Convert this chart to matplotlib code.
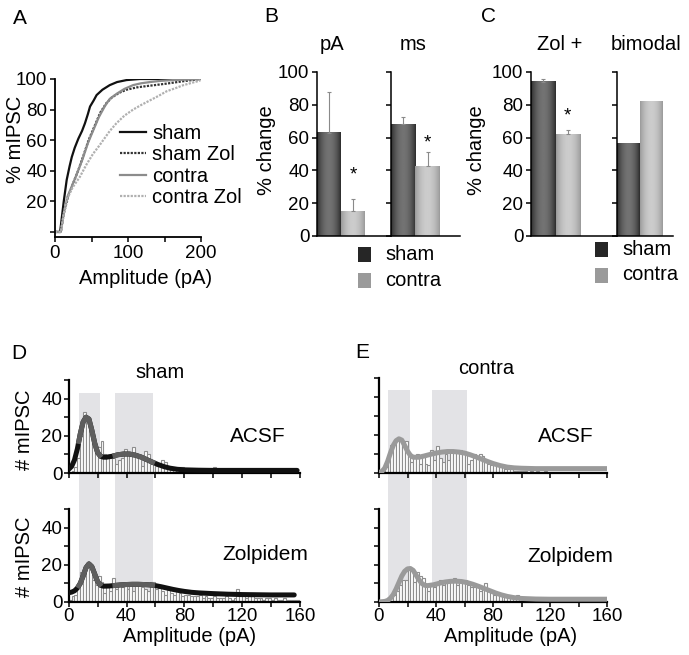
import numpy as np
import matplotlib
matplotlib.use('Agg')
import matplotlib.pyplot as plt
from matplotlib.patches import Rectangle
from matplotlib.lines import Line2D

plt.rcParams['font.family'] = ['Liberation Sans', 'DejaVu Sans']

# ---------------- data ----------------
# Panel A: cumulative amplitude distributions (pA, %)
cum_sham_x = [0, 7, 12, 16, 20, 23, 27, 32, 37, 41, 45, 48, 53, 57, 65, 75, 85, 98, 116, 200]
cum_sham_y = [0, 0, 20, 34, 43, 49, 55, 61, 66, 71, 77, 82, 86, 89.5, 93, 96, 98, 99.3, 100, 100]
cum_shamzol_x = [0, 8, 12, 18, 25, 32, 39, 46, 54, 62, 70, 78, 88, 98, 112, 126, 140, 153, 175, 199]
cum_shamzol_y = [0, 0, 12, 23, 32, 40.5, 50, 60, 69, 78, 84, 88, 91, 93, 94.5, 95.4, 96.2, 97, 98.5, 100]
cum_contra_x = [0, 8, 12, 17, 24, 30, 38, 45, 52, 60, 68, 75, 85, 95, 107, 118, 130, 145, 162, 200]
cum_contra_y = [0, 0, 12, 23, 31, 38, 48, 58, 66, 75, 82, 87, 90.5, 93.5, 96, 97.2, 98, 98.8, 99.3, 100]
cum_contrazol_x = [0, 8, 12, 16, 24, 34, 43, 52, 60, 66, 75, 84, 95, 107, 118, 130, 142, 153, 165, 176, 199]
cum_contrazol_y = [0, 0, 12, 21, 29, 36, 44, 51, 56, 60, 66, 71, 76, 80, 83, 86, 89, 92, 94, 96, 99]
cum_labels = ['sham', 'sham Zol', 'contra', 'contra Zol']

# Panel B: % change
B_groups = ['pA', 'ms']
B_sham = [63, 68]
B_contra = [15, 42.5]
B_sham_err = [25, 4.5]
B_contra_err = [7.5, 8.5]
B_star_y = [37, 57]

# Panel C
C_groups = ['Zol +', 'bimodal']
C_sham = [94, 56.5]
C_contra = [62, 82]
C_sham_err = [2, 0]
C_contra_err = [2.5, 0]
C_star_y = [73, None]

legend_labels = ['sham', 'contra']

# Panels D/E: amplitude histograms, 2 pA bins 0..160
bin_w = 2
D_acsf_counts = [0, 1, 3, 8, 20, 33, 28, 26, 20, 12,
                 14, 17, 10, 8, 8, 8, 5, 7, 8, 13,
                 10, 9, 14, 10, 9, 4, 12, 10, 5, 6,
                 4, 5, 7, 6, 3, 3, 2, 2, 3, 3,
                 2, 1, 1, 1, 0, 1, 1, 0, 1, 0,
                 3, 2, 1, 0, 0, 0, 0, 0, 0, 0,
                 0, 0, 0, 0, 0, 0, 0, 0, 0, 0,
                 0, 0, 0, 0, 0, 0, 0, 0, 0, 0]
D_zol_counts = [1, 3, 4, 8, 16, 17, 19, 20, 12, 9,
                14, 11, 5, 8, 6, 13, 7, 9, 8, 10,
                7, 9, 6, 9, 9, 8, 7, 6, 11, 11,
                7, 8, 6, 4, 7, 5, 4, 6, 5, 3,
                4, 4, 3, 3, 3, 4, 2, 3, 2, 2,
                3, 2, 2, 2, 3, 2, 1, 2, 7, 3,
                5, 2, 3, 5, 2, 2, 2, 1, 2, 2,
                1, 2, 1, 1, 2, 1, 1, 1, 1, 1]
E_acsf_counts = [0, 1, 3, 10, 15, 16, 18, 18, 17, 17,
                 9, 6, 8, 10, 5, 9, 5, 4, 12, 7,
                 14, 8, 6, 10, 7, 12, 12, 12, 12, 10,
                 11, 5, 7, 10, 8, 10, 9, 6, 5, 4,
                 4, 4, 3, 3, 2, 2, 2, 1, 1, 1,
                 1, 1, 0, 1, 0, 1, 0, 0, 1, 0,
                 0, 0, 0, 0, 0, 0, 0, 0, 0, 0,
                 0, 0, 0, 0, 0, 0, 0, 0, 0, 0]
E_zol_counts = [0, 0, 0, 1, 2, 4, 6, 9, 12, 12,
                18, 17, 11, 16, 14, 13, 9, 6, 10, 8,
                9, 12, 9, 12, 11, 12, 13, 9, 11, 11,
                12, 9, 8, 8, 8, 6, 8, 10, 6, 6,
                4, 5, 4, 3, 3, 3, 2, 3, 4, 2,
                2, 1, 1, 1, 0, 1, 0, 0, 0, 0,
                0, 0, 0, 0, 0, 0, 0, 0, 0, 0,
                0, 0, 0, 0, 0, 0, 0, 0, 0, 0]

# fitted curves (pA, count)
D_acsf_fit_x = [0, 2, 4, 6, 8, 10, 12, 14, 16, 18, 20, 22, 24, 26, 30, 34, 38, 42, 46, 50, 54, 58, 62, 66, 70, 75, 80, 90, 100, 120, 140, 158]
D_acsf_fit_y = [2, 3.5, 7, 13, 21, 27.5, 30, 29, 23, 16, 11, 9, 8.5, 8.5, 9, 9.8, 10.2, 10.2, 9.6, 8.6, 7.2, 5.8, 4.5, 3.4, 2.6, 2, 1.7, 1.5, 1.4, 1.4, 1.4, 1.4]
D_zol_fit_x = [0, 2, 4, 6, 8, 10, 12, 14, 16, 18, 20, 22, 24, 28, 32, 36, 40, 44, 48, 52, 56, 60, 64, 68, 72, 76, 80, 85, 90, 100, 110, 120, 130, 140, 156]
D_zol_fit_y = [5, 5.3, 6, 7.5, 10, 14, 18.5, 20.5, 19, 15, 11, 9, 8.5, 8.6, 8.9, 9.2, 9.4, 9.5, 9.5, 9.4, 9.2, 8.8, 8.2, 7.5, 6.8, 6.2, 5.7, 5.2, 4.9, 4.5, 4.2, 4, 3.9, 3.8, 3.8]
E_acsf_fit_x = [0, 2, 4, 6, 8, 10, 12, 14, 16, 18, 20, 22, 24, 28, 32, 36, 40, 44, 48, 52, 56, 60, 64, 68, 72, 76, 80, 85, 90, 95, 100, 110, 120, 140, 160]
E_acsf_fit_y = [0.3, 0.8, 2.5, 6, 10.5, 14.5, 17, 18, 17.3, 14.5, 11.5, 9.3, 8.3, 8.3, 9, 9.8, 10.5, 11, 11.3, 11.3, 11, 10.5, 9.6, 8.5, 7.3, 6.1, 5, 3.9, 3.1, 2.7, 2.5, 2.3, 2.3, 2.3, 2.3]
E_zol_fit_x = [0, 4, 6, 8, 10, 12, 14, 16, 18, 20, 22, 24, 26, 28, 30, 32, 34, 38, 42, 46, 50, 54, 58, 62, 66, 70, 74, 78, 82, 86, 90, 95, 100, 110, 120, 140, 160]
E_zol_fit_y = [0, 0.3, 0.8, 2, 4, 7, 10.5, 14, 16.5, 17.8, 18, 17, 14.5, 12, 10, 9, 8.8, 9.2, 10, 10.7, 11.1, 11.2, 11, 10.4, 9.5, 8.4, 7.2, 6, 4.8, 3.8, 3, 2.3, 1.9, 1.6, 1.5, 1.5, 1.5]

D_bands = [(7, 21.5), (32, 58)]
E_bands = [(6.5, 21.5), (37.5, 61.5)]

# ---------------- figure ----------------
W, H = 689, 655
fig = plt.figure(figsize=(W / 100, H / 100), dpi=100)
FS = 14.5
TFS = 13.5


def add_ax(l, t, r, b):
    ax = fig.add_axes([l / W, 1 - b / H, (r - l) / W, (b - t) / H])
    ax.patch.set_visible(False)
    return ax


def fxy(x, y):
    return (x / W, 1 - y / H)


def style(ax, lw=1.3):
    for s in ['top', 'right']:
        ax.spines[s].set_visible(False)
    for s in ['left', 'bottom']:
        ax.spines[s].set_linewidth(lw)
    ax.tick_params(direction='out', length=3.5, width=1.1, labelsize=TFS, pad=2)


def ylab(ax, text, x, y):
    ax.set_ylabel(text, fontsize=FS, va='center', ha='center')
    ax.yaxis.set_label_coords(*fxy(x, y), transform=fig.transFigure)


def xlab(ax, text, x, y):
    ax.set_xlabel(text, fontsize=FS, va='center', ha='center')
    ax.xaxis.set_label_coords(*fxy(x, y), transform=fig.transFigure)


def letter(s, x, y):
    fig.text(*fxy(x, y), s, fontsize=15, ha='center', va='center')

# ---- Panel A ----
axA = add_ax(55, 79, 201, 237)
style(axA)
axA.plot(cum_sham_x, cum_sham_y, color='#111111', lw=1.6, label=cum_labels[0])
axA.plot(cum_shamzol_x, cum_shamzol_y, color='#333333', lw=1.6, ls=(0, (1, 0.6)), label=cum_labels[1])
axA.plot(cum_contra_x, cum_contra_y, color='#8c8c8c', lw=1.6, label=cum_labels[2])
axA.plot(cum_contrazol_x, cum_contrazol_y, color='#b0b0b0', lw=1.6, ls=(0, (1, 0.6)), label=cum_labels[3])
axA.set_xlim(0, 200)
axA.set_ylim(-3.3, 100)
axA.set_xticks([0, 100, 200])
axA.set_xticks([50, 150], minor=True)
axA.tick_params(which='minor', direction='out', length=3.5, width=1.1)
axA.set_yticks([0, 20, 40, 60, 80, 100])
axA.set_yticklabels(['', '20', '40', '60', '80', '100'])
ylab(axA, '% mIPSC', 16, 139)
xlab(axA, 'Amplitude (pA)', 146, 278)
axA.legend(loc='upper left', bbox_to_anchor=fxy(120, 124), bbox_transform=fig.transFigure,
           frameon=False, fontsize=FS, handlelength=1.3, handletextpad=0.3,
           labelspacing=0.12, borderpad=0, borderaxespad=0)
letter('A', 20, 19)


def grad_bar(ax, x0, w, h, edge, center):
    t = np.linspace(0, 1, 60)
    prof = edge + (center - edge) * np.sin(np.pi * t) ** 0.8
    ax.imshow(prof[None, :], cmap='gray', vmin=0, vmax=1, extent=(x0, x0 + w, 0, h),
              aspect='auto', interpolation='bilinear', zorder=2)


def bar_panel(ax, sham, contra, serr, cerr, xmax, star, ticklabels=True):
    style(ax, lw=1.1)
    pos = np.arange(2)
    vals = [sham, contra]
    errs = [serr, cerr]
    shades = [(0.17, 0.45), (0.6, 0.8)]
    for i in range(2):
        grad_bar(ax, pos[i], 1, vals[i], *shades[i])
        if errs[i]:
            ax.errorbar(pos[i] + 0.5, vals[i], yerr=[[0], [errs[i]]], color='#8a8a8a',
                        lw=0.8, capsize=1.5, capthick=0.8, zorder=3)
    if star is not None:
        ax.text(pos[1] + 0.5, star, '*', fontsize=TFS, ha='center', va='center')
    ax.set_xlim(0, xmax)
    ax.set_ylim(0, 100)
    ax.set_xticks([])
    ax.set_yticks([0, 20, 40, 60, 80, 100])
    if not ticklabels:
        ax.set_yticklabels([])


# ---- Panel B ----
axB1 = add_ax(317, 72, 391, 236)
bar_panel(axB1, B_sham[0], B_contra[0], B_sham_err[0], B_contra_err[0], 74 / 24, B_star_y[0])
axB2 = add_ax(391, 72, 460, 236)
bar_panel(axB2, B_sham[1], B_contra[1], B_sham_err[1], B_contra_err[1], 69 / 24.5, B_star_y[1], ticklabels=False)
ylab(axB1, '% change', 266, 150)
fig.text(*fxy(332, 45), B_groups[0], fontsize=FS, ha='center', va='center')
fig.text(*fxy(413, 45), B_groups[1], fontsize=FS, ha='center', va='center')
letter('B', 271, 17)

# ---- Panel C ----
axC1 = add_ax(531, 72, 617, 236)
bar_panel(axC1, C_sham[0], C_contra[0], C_sham_err[0], C_contra_err[0], 86 / 24.5, C_star_y[0])
axC2 = add_ax(617, 72, 673, 236)
bar_panel(axC2, C_sham[1], C_contra[1], C_sham_err[1], C_contra_err[1], 56 / 23, C_star_y[1], ticklabels=False)
ylab(axC1, '% change', 476, 150)
fig.text(*fxy(560, 45), C_groups[0], fontsize=FS, ha='center', va='center')
fig.text(*fxy(646, 45), C_groups[1], fontsize=FS, ha='center', va='center')
letter('C', 488, 17)

# legends for B and C
for (sx, tx, y0) in [(358, 385, 247), (595, 622, 242)]:
    for k, (lab, col) in enumerate(zip(legend_labels, ['#262626', '#9a9a9a'])):
        yy = y0 + k * 25.5
        fig.patches.append(Rectangle(fxy(sx, yy + 15), 13 / W, 15 / H, transform=fig.transFigure,
                                     facecolor=col, edgecolor='none'))
        fig.text(*fxy(tx, yy + 7.5), lab, fontsize=FS, ha='left', va='center')


# ---- Panels D / E ----
def band_axes(l, t, r, b, bands):
    ax = add_ax(l, t, r, b)
    ax.set_xlim(0, 160)
    ax.set_ylim(0, 1)
    ax.axis('off')
    for a, bnd in bands:
        ax.axvspan(a, bnd, color='#e3e3e6', lw=0)
    return ax


def hist_panel(ax, counts, fx, fy, color_main, color_band, bands, ylabels, xlabels):
    style(ax, lw=1.6)
    ax.tick_params(pad=1)
    edges = np.arange(0, 160, bin_w)
    ax.bar(edges, counts, width=bin_w, align='edge', facecolor='white',
           edgecolor='#8e8e8e', lw=0.8, zorder=2)
    fx = np.asarray(fx, float)
    fy = np.asarray(fy, float)
    ax.plot(fx, fy, color=color_main, lw=3.6, solid_capstyle='round', zorder=3)
    if color_band is not None:
        for a, b in bands:
            m = (fx > a) & (fx < b)
            xs = np.concatenate([[a], fx[m], [b]])
            ax.plot(xs, np.interp(xs, fx, fy), color=color_band, lw=3.6, zorder=4)
    ax.set_xlim(0, 160)
    ax.set_ylim(0, 50)
    ax.set_xticks(np.arange(0, 161, 20))
    ax.set_yticks(np.arange(0, 51, 10))
    if ylabels:
        ax.set_yticklabels(['0', '', '20', '', '40', ''])
    else:
        ax.set_yticklabels([])
    if xlabels:
        ax.set_xticklabels(['0', '', '40', '', '80', '', '120', '', '160'])
    else:
        ax.set_xticklabels([])


band_axes(68.7, 393, 300, 601, D_bands)
band_axes(379, 390, 607, 601, E_bands)

axD1 = add_ax(68.7, 380, 300, 473)
hist_panel(axD1, D_acsf_counts, D_acsf_fit_x, D_acsf_fit_y, '#111111', '#5e5e5e', D_bands, True, False)
axD2 = add_ax(68.7, 509, 300, 602)
hist_panel(axD2, D_zol_counts, D_zol_fit_x, D_zol_fit_y, '#111111', '#5e5e5e', D_bands, True, True)
axE1 = add_ax(379, 378, 607, 473)
hist_panel(axE1, E_acsf_counts, E_acsf_fit_x, E_acsf_fit_y, '#9a9a9a', None, E_bands, False, False)
axE2 = add_ax(379, 509, 607, 602)
hist_panel(axE2, E_zol_counts, E_zol_fit_x, E_zol_fit_y, '#9a9a9a', None, E_bands, False, True)

ylab(axD1, '# mIPSC', 24, 430)
ylab(axD2, '# mIPSC', 24, 557)
xlab(axD2, 'Amplitude (pA)', 190, 636)
xlab(axE2, 'Amplitude (pA)', 511, 637)

fig.text(*fxy(160, 372), 'sham', fontsize=FS, ha='center', va='center')
fig.text(*fxy(486, 369), 'contra', fontsize=FS, ha='center', va='center')
fig.text(*fxy(258, 437), 'ACSF', fontsize=15, ha='center', va='center')
fig.text(*fxy(265, 555), 'Zolpidem', fontsize=15, ha='center', va='center')
fig.text(*fxy(566, 437), 'ACSF', fontsize=15, ha='center', va='center')
fig.text(*fxy(570, 557), 'Zolpidem', fontsize=15, ha='center', va='center')
letter('D', 19, 354)
letter('E', 362, 353)

fig.savefig('out.png', dpi=100)
